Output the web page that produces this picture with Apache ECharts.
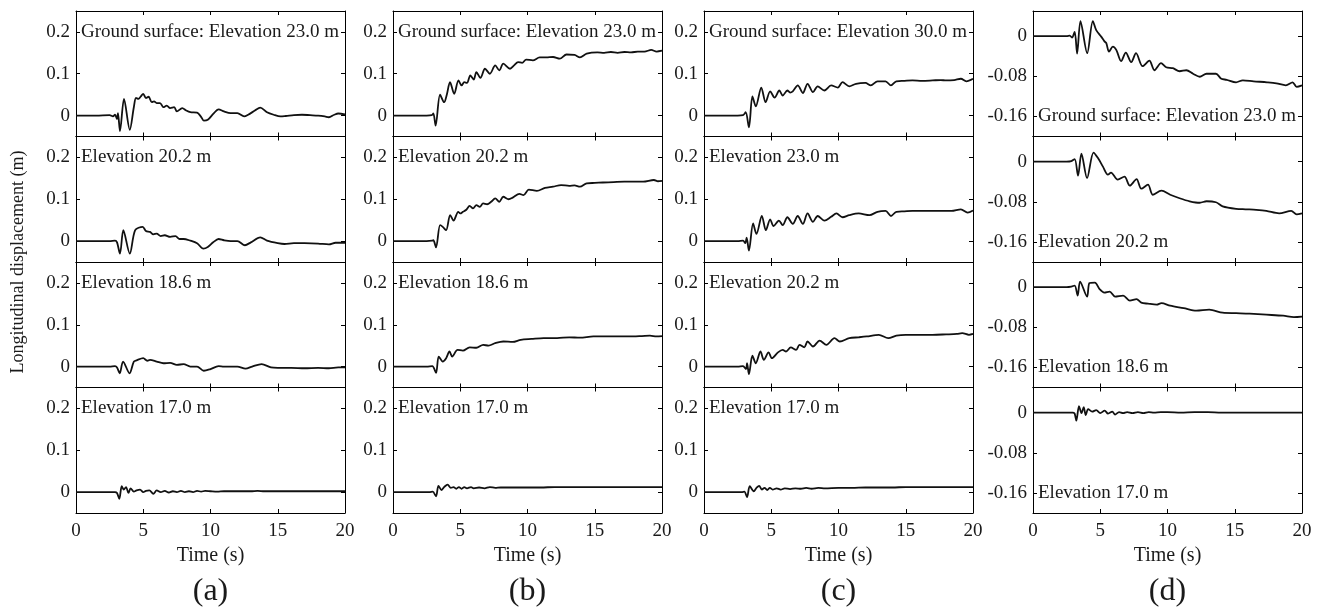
<!DOCTYPE html>
<html>
<head>
<meta charset="utf-8">
<script src="https://cdn.jsdelivr.net/npm/echarts@6/dist/echarts.min.js"></script>
<style>
  html, body { margin: 0; padding: 0; background: #fff; }
  #c { width: 1321px; height: 610px; }
</style>
</head>
<body>
<div id="c"></div>
<script>
// Longitudinal displacement time histories, [time (s), displacement (m)]
// Column (a)
const a1 = [[0,0],[1.5,0],[2.5,0.001],[2.75,-0.002],[2.9,0.002],[3.05,-0.008],[3.12,0.006],[3.27,-0.037],[3.57,0.040],[4.0,-0.034],[4.3,0.02],[4.46,0.042],[4.65,0.04],[4.8,0.045],[5.0,0.052],[5.2,0.042],[5.4,0.045],[5.63,0.032],[5.8,0.034],[6.0,0.03],[6.25,0.03],[6.5,0.02],[6.75,0.024],[7.0,0.018],[7.3,0.02],[7.5,0.01],[7.9,0.018],[8.2,0.012],[8.5,0.008],[9.0,0.007],[9.3,-0.003],[9.5,-0.012],[9.8,-0.01],[10.2,0.004],[10.6,0.015],[11.0,0.01],[11.5,0.006],[12.0,0.006],[12.5,-0.002],[12.8,0.002],[13.3,0.012],[13.7,0.019],[14.2,0.008],[14.7,0.002],[15.2,-0.002],[15.6,-0.001],[16.2,0.001],[16.8,0.002],[17.4,0.001],[18.0,0],[18.5,-0.002],[18.8,-0.004],[19.2,0.002],[19.5,0.005],[20,0.003]];
const a2 = [[0,0],[2.5,0],[2.9,0.001],[3.05,-0.003],[3.27,-0.03],[3.52,0.026],[4.0,-0.03],[4.4,0.026],[4.96,0.034],[5.2,0.024],[5.5,0.022],[5.75,0.016],[6.0,0.018],[6.3,0.012],[6.6,0.014],[7.0,0.01],[7.4,0.012],[7.7,0.005],[8.0,0.005],[8.5,0.001],[9.0,-0.005],[9.47,-0.018],[9.8,-0.014],[10.2,-0.003],[10.6,0.005],[11.0,0.002],[11.5,0],[12.0,0],[12.56,-0.01],[13.0,-0.003],[13.7,0.009],[14.2,0.001],[15.0,-0.005],[15.5,-0.007],[16.2,-0.005],[17.0,-0.005],[18.0,-0.006],[18.8,-0.008],[19.3,-0.004],[20,-0.004]];
const a3 = [[0,0],[2.5,0],[2.9,0.001],[3.05,-0.002],[3.25,-0.016],[3.5,0.012],[3.98,-0.016],[4.3,0.012],[4.5,0.015],[5.0,0.02],[5.3,0.014],[5.5,0.016],[6.0,0.012],[6.5,0.008],[7.0,0.009],[7.5,0.004],[8.0,0.006],[8.5,0],[9.0,0],[9.5,-0.01],[10.0,-0.006],[10.6,0.001],[11.0,0],[12.0,0],[12.6,-0.005],[13.1,0],[13.8,0.006],[14.5,-0.002],[15.0,-0.003],[16.0,-0.003],[17.0,-0.004],[18.0,-0.003],[18.8,-0.004],[19.5,-0.002],[20,-0.002]];
const a4 = [[0,0],[2.9,0],[3.05,-0.002],[3.22,-0.016],[3.4,0.014],[3.55,0.006],[3.72,0.012],[3.9,-0.002],[4.06,0.009],[4.3,0.001],[4.5,0.004],[4.76,0.006],[5.0,0],[5.2,0.003],[5.45,0.004],[5.75,-0.004],[6.0,0.004],[6.3,0],[6.6,0.003],[6.9,-0.001],[7.2,0.002],[7.5,0],[7.8,0.003],[8.1,0],[8.4,0.002],[8.7,0],[9.0,0.003],[9.3,0.001],[9.6,0.003],[10.0,0.002],[10.5,0.001],[11,0.002],[12,0.002],[13,0.002],[13.5,0.003],[14,0.002],[15,0.002],[16,0.002],[17,0.002],[18,0.002],[19,0.002],[20,0.002]];
// Column (b)
const b1 = [[0,0],[2.5,0],[2.88,0.001],[3.0,0.005],[3.17,-0.024],[3.5,0.05],[3.8,0.032],[4.0,0.05],[4.24,0.08],[4.55,0.052],[4.87,0.084],[5.1,0.072],[5.3,0.08],[5.5,0.078],[5.75,0.096],[6.0,0.086],[6.2,0.104],[6.5,0.09],[6.84,0.112],[7.2,0.1],[7.6,0.12],[7.9,0.108],[8.2,0.124],[8.7,0.112],[9.0,0.12],[9.3,0.128],[9.6,0.126],[9.9,0.134],[10.4,0.132],[10.9,0.139],[11.4,0.139],[11.9,0.14],[12.4,0.136],[12.9,0.146],[13.5,0.145],[13.9,0.139],[14.4,0.148],[15.2,0.151],[15.7,0.15],[16.2,0.152],[16.7,0.15],[17.2,0.152],[17.7,0.151],[18.2,0.153],[18.7,0.153],[19.2,0.157],[19.6,0.153],[20,0.155]];
const b2 = [[0,0],[2.5,0],[2.92,0.001],[3.0,0.002],[3.2,-0.015],[3.5,0.038],[3.7,0.034],[3.95,0.026],[4.25,0.062],[4.5,0.049],[4.85,0.07],[5.0,0.066],[5.2,0.07],[5.45,0.075],[5.7,0.084],[5.95,0.078],[6.2,0.086],[6.45,0.082],[6.7,0.09],[7.0,0.088],[7.3,0.094],[7.6,0.102],[7.9,0.094],[8.2,0.106],[8.6,0.1],[8.9,0.104],[9.4,0.113],[9.7,0.11],[10.1,0.123],[10.7,0.12],[11.3,0.127],[11.9,0.13],[12.5,0.134],[13.1,0.132],[13.5,0.133],[13.9,0.13],[14.4,0.138],[15.0,0.139],[15.6,0.14],[16.4,0.141],[17.2,0.142],[17.9,0.142],[18.6,0.142],[19.4,0.146],[19.7,0.143],[20,0.144]];
const b3 = [[0,0],[2.5,0],[2.92,0.001],[3.2,-0.015],[3.4,0.024],[3.7,0.012],[3.95,0.02],[4.2,0.036],[4.4,0.024],[4.8,0.04],[5.2,0.038],[5.7,0.046],[6.2,0.045],[6.7,0.052],[7.1,0.05],[7.6,0.056],[8.2,0.06],[8.9,0.059],[9.5,0.064],[10.3,0.066],[11.2,0.068],[12.2,0.068],[13.1,0.07],[13.9,0.069],[14.9,0.072],[16,0.072],[17.5,0.072],[18.5,0.073],[19.1,0.074],[19.6,0.072],[20,0.073]];
const b4 = [[0,0],[2.7,0],[2.95,0.001],[3.2,-0.01],[3.38,0.015],[3.6,0.005],[3.8,0.012],[4.06,0.018],[4.3,0.01],[4.5,0.012],[4.7,0.008],[4.9,0.012],[5.1,0.008],[5.3,0.012],[5.5,0.009],[5.8,0.012],[6.0,0.009],[6.4,0.011],[6.8,0.009],[7.2,0.012],[7.6,0.01],[8,0.011],[9,0.011],[10,0.011],[11,0.011],[12,0.012],[13,0.012],[14,0.012],[15,0.012],[16,0.012],[17,0.012],[18,0.012],[19,0.012],[20,0.012]];
// Column (c)
const c1 = [[0,0],[2.5,0],[2.9,0.001],[3.1,0.008],[3.34,-0.028],[3.6,0.046],[3.85,0.022],[4.26,0.067],[4.58,0.032],[4.92,0.058],[5.25,0.043],[5.6,0.06],[5.85,0.048],[6.2,0.06],[6.4,0.055],[6.6,0.058],[6.97,0.072],[7.35,0.054],[7.7,0.076],[8.1,0.056],[8.45,0.07],[8.95,0.06],[9.45,0.072],[9.95,0.067],[10.3,0.08],[10.8,0.07],[11.3,0.076],[12.0,0.078],[12.4,0.072],[12.9,0.082],[13.5,0.082],[13.9,0.072],[14.3,0.082],[14.9,0.083],[15.5,0.084],[16.2,0.083],[17.0,0.084],[17.6,0.085],[18.0,0.084],[18.6,0.085],[19.1,0.088],[19.5,0.082],[20,0.088]];
const c2 = [[0,0],[2.5,0],[2.9,0.001],[3.07,-0.005],[3.17,0.008],[3.34,-0.023],[3.65,0.042],[3.9,0.017],[4.3,0.06],[4.6,0.026],[4.92,0.052],[5.17,0.036],[5.57,0.049],[5.85,0.038],[6.2,0.057],[6.6,0.041],[6.97,0.06],[7.35,0.041],[7.7,0.066],[8.1,0.046],[8.45,0.06],[8.95,0.049],[9.45,0.058],[9.85,0.066],[10.3,0.057],[10.8,0.062],[11.5,0.066],[12.3,0.062],[12.9,0.07],[13.5,0.072],[13.9,0.06],[14.3,0.07],[14.9,0.071],[15.5,0.072],[16.5,0.072],[17.5,0.072],[18.4,0.072],[19.1,0.076],[19.6,0.068],[20,0.073]];
const c3 = [[0,0],[2.5,0],[2.9,0.001],[3.12,-0.006],[3.2,0.008],[3.34,-0.018],[3.6,0.026],[3.85,0.008],[4.2,0.036],[4.45,0.016],[4.8,0.034],[5.05,0.02],[5.5,0.034],[5.85,0.04],[6.1,0.036],[6.45,0.046],[6.85,0.04],[7.1,0.052],[7.45,0.046],[7.7,0.06],[8.1,0.048],[8.6,0.062],[9.1,0.052],[9.7,0.068],[10.1,0.06],[10.8,0.068],[11.5,0.07],[12.1,0.072],[13.0,0.076],[13.7,0.068],[14.3,0.074],[15.0,0.076],[16.0,0.076],[17.0,0.076],[18.0,0.077],[18.8,0.078],[19.2,0.08],[19.7,0.076],[20,0.078]];
const c4 = [[0,0],[2.8,0],[3.0,0.001],[3.2,-0.012],[3.4,0.014],[3.7,0.002],[3.9,0.01],[4.1,0.015],[4.3,0.006],[4.5,0.01],[4.7,0.005],[4.9,0.01],[5.1,0.006],[5.4,0.009],[5.7,0.006],[6.0,0.009],[6.4,0.007],[6.8,0.009],[7.2,0.008],[7.6,0.01],[8,0.008],[8.5,0.01],[9,0.009],[10,0.01],[11,0.01],[12,0.011],[13,0.011],[14,0.011],[15,0.012],[16,0.012],[17,0.012],[18,0.012],[19,0.012],[20,0.012]];
// Column (d)
const d1 = [[0,0],[2.5,0],[2.73,0.001],[2.9,-0.003],[3.1,0.0085],[3.28,-0.035],[3.53,0.030],[4.03,-0.034],[4.45,0.030],[4.7,0.012],[5.07,-0.001],[5.3,-0.01],[5.45,-0.014],[5.65,-0.031],[5.94,-0.021],[6.2,-0.028],[6.55,-0.05],[6.9,-0.033],[7.3,-0.052],[7.66,-0.034],[8.15,-0.06],[8.65,-0.049],[9.03,-0.068],[9.52,-0.054],[9.9,-0.062],[10.4,-0.064],[10.9,-0.07],[11.4,-0.068],[11.9,-0.075],[12.4,-0.081],[12.9,-0.075],[13.6,-0.075],[14.0,-0.085],[14.4,-0.087],[15.1,-0.092],[15.6,-0.088],[16.4,-0.09],[17.4,-0.092],[18.1,-0.094],[18.8,-0.098],[19.3,-0.092],[19.6,-0.101],[20,-0.098]];
const d2 = [[0,0],[2.5,0],[2.85,0.001],[3.1,0.005],[3.35,-0.028],[3.6,0.016],[4.02,-0.033],[4.5,0.018],[4.83,0.007],[5.2,-0.01],[5.57,-0.026],[5.8,-0.022],[6.3,-0.036],[6.8,-0.03],[7.2,-0.048],[7.7,-0.035],[8.05,-0.054],[8.55,-0.046],[8.9,-0.066],[9.55,-0.058],[10.2,-0.066],[10.9,-0.073],[11.65,-0.079],[12.4,-0.082],[12.9,-0.079],[13.6,-0.081],[14.1,-0.089],[15.1,-0.094],[15.8,-0.095],[16.6,-0.096],[17.35,-0.098],[18.3,-0.103],[19.2,-0.098],[19.6,-0.105],[20,-0.103]];
const d3 = [[0,0],[2.5,0],[2.85,0.001],[3.1,0.003],[3.32,-0.017],[3.5,0.011],[4.02,-0.019],[4.2,0.008],[4.6,0.009],[4.95,-0.004],[5.3,-0.011],[5.7,-0.009],[6.1,-0.019],[6.7,-0.017],[7.2,-0.027],[7.7,-0.024],[8.05,-0.031],[8.55,-0.033],[9.2,-0.035],[9.55,-0.032],[10.2,-0.037],[11.2,-0.042],[12.15,-0.047],[13.1,-0.045],[14.1,-0.051],[15.1,-0.052],[16.1,-0.053],[17.35,-0.055],[18.6,-0.057],[19.4,-0.06],[20,-0.059]];
const d4 = [[0,0],[2.98,0],[3.1,-0.002],[3.22,-0.016],[3.42,0.013],[3.6,-0.001],[3.77,0.011],[3.92,-0.005],[4.1,0.007],[4.4,0.002],[4.7,0.005],[5.0,-0.001],[5.33,0.004],[5.58,-0.002],[5.9,0.002],[6.1,-0.004],[6.4,0.001],[6.7,-0.001],[7.0,0.001],[7.4,-0.001],[7.8,0.001],[8.2,-0.001],[8.6,0.001],[9.0,0],[9.5,0.001],[10,0.001],[11,0],[12,0.001],[13,0.001],[14,0],[15,0],[16,0],[17,0],[18,0],[19,0],[20,0]];

// Panel annotations (top to bottom in each column)
const labelsA = ['Ground surface: Elevation 23.0 m', 'Elevation 20.2 m', 'Elevation 18.6 m', 'Elevation 17.0 m'];
const labelsB = ['Ground surface: Elevation 23.0 m', 'Elevation 20.2 m', 'Elevation 18.6 m', 'Elevation 17.0 m'];
const labelsC = ['Ground surface: Elevation 30.0 m', 'Elevation 23.0 m', 'Elevation 20.2 m', 'Elevation 17.0 m'];
const labelsD = ['Ground surface: Elevation 23.0 m', 'Elevation 20.2 m', 'Elevation 18.6 m', 'Elevation 17.0 m'];
const columnTags = ['(a)', '(b)', '(c)', '(d)'];

// Axis ticks
const xTicks = [0, 5, 10, 15, 20];
const yTicksPos = [0, 0.1, 0.2];
const yTicksNeg = [-0.16, -0.08, 0];
const xLabel = 'Time (s)';
const yLabel = 'Longitudinal displacement (m)';

const columns = [
  { data: [a1, a2, a3, a4], labels: labelsA, yMin: -0.05, yMax: 0.25, ticks: yTicksPos, labelAt: 0.2 },
  { data: [b1, b2, b3, b4], labels: labelsB, yMin: -0.05, yMax: 0.25, ticks: yTicksPos, labelAt: 0.2 },
  { data: [c1, c2, c3, c4], labels: labelsC, yMin: -0.05, yMax: 0.25, ticks: yTicksPos, labelAt: 0.2 },
  { data: [d1, d2, d3, d4], labels: labelsD, yMin: -0.2, yMax: 0.05, ticks: yTicksNeg, labelAt: -0.16 }
];

// Layout
const colLeft = [76, 393, 704, 1033];
const colW = 269;
const rowTop = [11, 136.5, 262, 387.5];
const rowH = 125.5;

const FONT = '"Liberation Serif", "Times New Roman", serif';
const INK = '#1a1a1a';

const grid = [], xAxis = [], yAxis = [], series = [];
const axisLine = { show: true, onZero: false, lineStyle: { color: '#000', width: 1 } };
const tickStyle = { color: '#000', width: 1 };

columns.forEach((col, ci) => {
  col.data.forEach((d, ri) => {
    const g = grid.length;
    grid.push({ left: colLeft[ci], top: rowTop[ri], width: colW, height: rowH, containLabel: false });
    const bottomRow = ri === 3;
    xAxis.push({
      gridIndex: g, type: 'value', position: 'bottom', min: xTicks[0], max: xTicks[xTicks.length - 1], interval: 5,
      axisLine, splitLine: { show: false },
      axisTick: { show: true, inside: true, length: 4, lineStyle: tickStyle },
      axisLabel: { show: bottomRow, margin: 9, fontFamily: FONT, fontSize: 19, color: INK },
      name: bottomRow ? xLabel : '', nameLocation: 'middle', nameGap: 33,
      nameTextStyle: { fontFamily: FONT, fontSize: 20, color: INK }
    });
    xAxis.push({
      gridIndex: g, type: 'value', position: 'top', min: 0, max: 20, interval: 5,
      axisLine, splitLine: { show: false },
      axisTick: { show: true, inside: true, length: 4, lineStyle: tickStyle },
      axisLabel: { show: false }
    });
    yAxis.push({
      gridIndex: g, type: 'value', position: 'left', min: col.yMin, max: col.yMax,
      axisLine, splitLine: { show: false },
      axisTick: { show: true, inside: true, length: 4, lineStyle: tickStyle, customValues: col.ticks },
      axisLabel: { show: true, margin: 6, fontFamily: FONT, fontSize: 19, color: INK, customValues: col.ticks }
    });
    yAxis.push({
      gridIndex: g, type: 'value', position: 'right', min: col.yMin, max: col.yMax,
      axisLine, splitLine: { show: false },
      axisTick: { show: true, inside: true, length: 4, lineStyle: tickStyle, customValues: col.ticks },
      axisLabel: { show: false }
    });
    series.push({
      type: 'line', xAxisIndex: 2 * g, yAxisIndex: 2 * g, data: d,
      showSymbol: false, smooth: 0.3, clip: true,
      lineStyle: { color: '#111', width: 1.8 }, silent: true, animation: false
    });
  });
});

const chart = echarts.init(document.getElementById('c'), null, { renderer: 'canvas' });
chart.setOption({ animation: false, grid, xAxis, yAxis, series });

// Panel annotations, column tags and the shared y-axis title
const graphic = [];
columns.forEach((col, ci) => {
  col.labels.forEach((txt, ri) => {
    const g = ci * 4 + ri;
    const p = chart.convertToPixel({ seriesIndex: g }, [0, col.labelAt]);
    graphic.push({
      type: 'text', x: p[0] + 5, y: p[1], silent: true,
      style: { text: txt, font: '19px ' + FONT, fill: INK, align: 'left', verticalAlign: 'middle' }
    });
  });
  graphic.push({
    type: 'text', x: colLeft[ci] + colW / 2, y: 592, silent: true,
    style: { text: columnTags[ci], font: '32px ' + FONT, fill: INK, align: 'center', verticalAlign: 'middle' }
  });
});
graphic.push({
  type: 'text', x: 18, y: rowTop[0] + rowH * 2, rotation: Math.PI / 2, silent: true,
  style: { text: yLabel, font: '18px ' + FONT, fill: INK, align: 'center', verticalAlign: 'middle' }
});
chart.setOption({ graphic });
</script>
</body>
</html>
